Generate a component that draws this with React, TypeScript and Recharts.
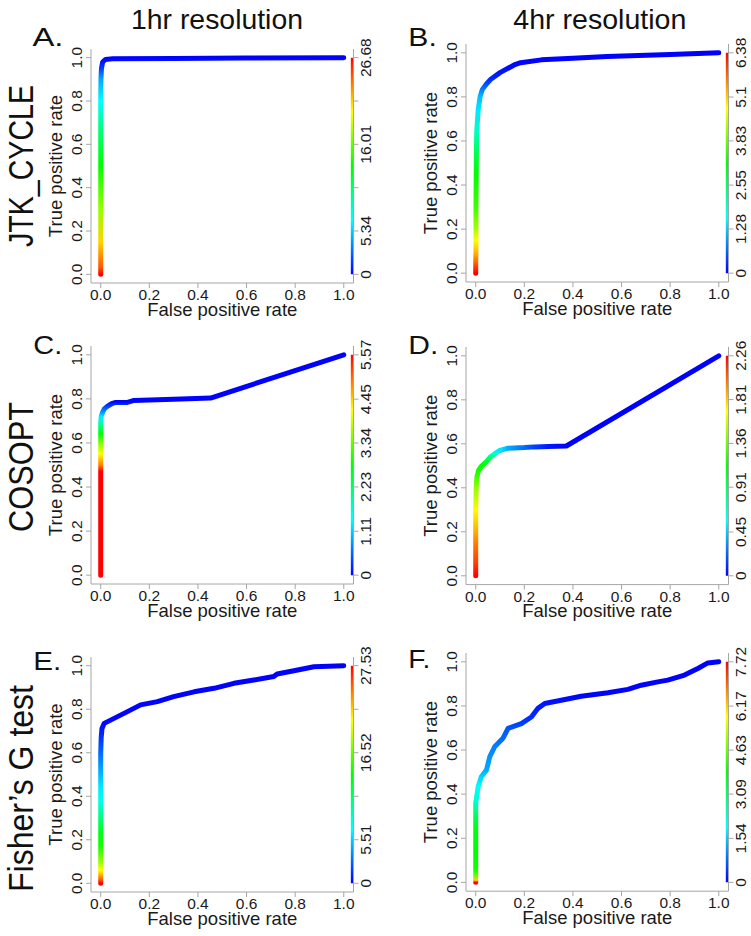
import React from "react";
import { ComposedChart, Line, Area, XAxis, YAxis } from "recharts";

const FONT = '"Liberation Sans", Arial, Helvetica, sans-serif';

// axis ticks shared by every panel
const rateTicks = [0, 0.2, 0.4, 0.6, 0.8, 1.0];
const rateLabels = ["0.0", "0.2", "0.4", "0.6", "0.8", "1.0"];

// A. JTK_CYCLE, 1hr resolution
const jtk1Fpr = [0, 0, 0, 0, 0, 0, 0, 0.001, 0.003, 0.008, 0.02, 0.05, 0.3, 0.6, 1.0];
const jtk1Tpr = [0, 0.03, 0.15, 0.3, 0.5, 0.65, 0.8, 0.9, 0.95, 0.98, 0.992, 0.995, 0.996, 0.998, 1.0];
const jtk1Cut = [26.68, 24.46, 21.12, 17.23, 13.34, 10.56, 6.67, 4.45, 1.67, 0.56, 0.3, 0.15, 0.1, 0.05, 0];
const jtk1BarTicks = [0, 5.34, 10.67, 16.01, 21.34, 26.68];
const jtk1BarLabels = ["0", "5.34", "", "16.01", "", "26.68"];

// B. JTK_CYCLE, 4hr resolution
const jtk4Fpr = [0, 0, 0.001, 0.001, 0.001, 0.001, 0.002, 0.003, 0.004, 0.01, 0.018, 0.027, 0.045, 0.062, 0.1, 0.158, 0.185, 0.27, 0.4, 0.54, 0.8, 1.0];
const jtk4Tpr = [0, 0.05, 0.1, 0.15, 0.2, 0.3, 0.45, 0.55, 0.64, 0.74, 0.8, 0.833, 0.86, 0.88, 0.91, 0.945, 0.955, 0.968, 0.975, 0.983, 0.992, 1.0];
const jtk4Cut = [6.38, 5.72, 5.18, 4.79, 4.25, 3.59, 3.19, 2.66, 2.0, 1.46, 1.2, 0.8, 0.48, 0.27, 0.13, 0.05, 0.03, 0.02, 0.01, 0.01, 0, 0];
const jtk4BarTicks = [0, 1.28, 2.55, 3.83, 5.1, 6.38];
const jtk4BarLabels = ["0", "1.28", "2.55", "3.83", "5.1", "6.38"];

// C. COSOPT, 1hr resolution
const cos1Fpr = [0, 0, 0, 0, 0, 0, 0, 0.002, 0.008, 0.015, 0.027, 0.045, 0.062, 0.11, 0.137, 0.3, 0.452, 1.0];
const cos1Tpr = [0, 0.47, 0.5, 0.55, 0.6, 0.64, 0.69, 0.72, 0.74, 0.755, 0.766, 0.778, 0.784, 0.784, 0.793, 0.798, 0.804, 1.0];
const cos1Cut = [5.57, 5.57, 4.87, 4.18, 3.48, 2.79, 1.86, 1.28, 0.81, 0.58, 0.35, 0.19, 0.05, 0.03, 0.02, 0.01, 0.01, 0];
const cos1BarTicks = [0, 1.11, 2.23, 3.34, 4.45, 5.57];
const cos1BarLabels = ["0", "1.11", "2.23", "3.34", "4.45", "5.57"];

// D. COSOPT, 4hr resolution
const cos4Fpr = [0, 0, 0, 0, 0, 0.002, 0.005, 0.012, 0.025, 0.045, 0.06, 0.08, 0.1, 0.133, 0.2, 0.242, 0.3, 0.373, 1.0];
const cos4Tpr = [0, 0.06, 0.15, 0.22, 0.3, 0.4, 0.45, 0.48, 0.5, 0.52, 0.54, 0.556, 0.57, 0.58, 0.583, 0.586, 0.588, 0.59, 1.0];
const cos4Cut = [2.26, 2.12, 1.98, 1.84, 1.7, 1.46, 1.27, 1.18, 1.13, 1.04, 0.85, 0.66, 0.52, 0.38, 0.24, 0.14, 0.05, 0, 0];
const cos4BarTicks = [0, 0.45, 0.91, 1.36, 1.81, 2.26];
const cos4BarLabels = ["0", "0.45", "0.91", "1.36", "1.81", "2.26"];

// E. Fisher's G test, 1hr resolution
const fis1Fpr = [0, 0, 0, 0, 0, 0, 0, 0, 0, 0, 0, 0.002, 0.005, 0.014, 0.055, 0.11, 0.164, 0.233, 0.3, 0.384, 0.466, 0.548, 0.63, 0.712, 0.726, 0.795, 0.877, 1.0];
const fis1Tpr = [0, 0.02, 0.06, 0.1, 0.17, 0.23, 0.29, 0.38, 0.44, 0.52, 0.6, 0.67, 0.71, 0.735, 0.758, 0.789, 0.82, 0.835, 0.858, 0.88, 0.896, 0.919, 0.934, 0.95, 0.962, 0.977, 0.995, 1.0];
const fis1Cut = [27.53, 24.66, 20.65, 17.78, 14.34, 13.19, 10.9, 7.46, 6.31, 4.59, 2.87, 1.38, 0.57, 0.23, 0.15, 0.12, 0.1, 0.08, 0.07, 0.06, 0.05, 0.04, 0.03, 0.02, 0.02, 0.01, 0.01, 0];
const fis1BarTicks = [0, 5.51, 11.01, 16.52, 22.02, 27.53];
const fis1BarLabels = ["0", "5.51", "", "16.52", "", "27.53"];

// F. Fisher's G test, 4hr resolution
const fis4Fpr = [0, 0, 0, 0, 0, 0, 0, 0, 0.01, 0.023, 0.044, 0.058, 0.078, 0.112, 0.133, 0.188, 0.229, 0.256, 0.284, 0.352, 0.434, 0.544, 0.626, 0.681, 0.749, 0.79, 0.859, 0.914, 0.955, 1.0];
const fis4Tpr = [0, 0.01, 0.03, 0.06, 0.15, 0.25, 0.3, 0.36, 0.434, 0.479, 0.509, 0.57, 0.615, 0.653, 0.698, 0.72, 0.75, 0.789, 0.811, 0.826, 0.844, 0.86, 0.875, 0.894, 0.909, 0.917, 0.94, 0.97, 0.995, 1.0];
const fis4Cut = [7.72, 6.11, 4.66, 4.02, 3.86, 3.7, 3.22, 2.41, 1.93, 1.61, 1.29, 1.13, 0.97, 0.8, 0.64, 0.48, 0.32, 0.23, 0.16, 0.1, 0.03, 0.02, 0.02, 0.01, 0.01, 0.01, 0.01, 0, 0, 0];
const fis4BarTicks = [0, 1.54, 3.09, 4.63, 6.17, 7.72];
const fis4BarLabels = ["0", "1.54", "3.09", "4.63", "6.17", "7.72"];

const BOX_W = 262.5;
const Y_AXIS_W = 60;
const BAR_AXIS_W = 22;
const TOP_PAD = 10;
const X_AXIS_H = 40;
const GRID = "#a6a6a6";
const INK = "#1a1a1a";
const TICK_FS = 15.5;
const DOMAIN: [number, number] = [-0.04, 1.04];
// colour key sits on the inside of the right edge of the box
const BAR_X0 = 1.029;
const BAR_X1 = 1.04;

// rev(rainbow(256, end = 4/6)): low cutoff blue, high cutoff red
const cutColor = (c: number, max: number) =>
  `hsl(${(240 * (1 - c / max)).toFixed(1)}, 100%, 50%)`;

type Pt = { fpr: number; tpr: number; cut: number };

const panels = [
  { id: "A", fpr: jtk1Fpr, tpr: jtk1Tpr, cut: jtk1Cut, barTicks: jtk1BarTicks, barLabels: jtk1BarLabels, split: null, left: 90.5, top: 48.8, h: 234 },
  { id: "B", fpr: jtk4Fpr, tpr: jtk4Tpr, cut: jtk4Cut, barTicks: jtk4BarTicks, barLabels: jtk4BarLabels, split: null, left: 466, top: 44.2, h: 238 },
  { id: "C", fpr: cos1Fpr, tpr: cos1Tpr, cut: cos1Cut, barTicks: cos1BarTicks, barLabels: cos1BarLabels, split: null, left: 90.5, top: 346.4, h: 238 },
  { id: "D", fpr: cos4Fpr, tpr: cos4Tpr, cut: cos4Cut, barTicks: cos4BarTicks, barLabels: cos4BarLabels, split: 12, left: 466, top: 346.9, h: 237.6 },
  { id: "E", fpr: fis1Fpr, tpr: fis1Tpr, cut: fis1Cut, barTicks: fis1BarTicks, barLabels: fis1BarLabels, split: null, left: 90.5, top: 657, h: 235 },
  { id: "F", fpr: fis4Fpr, tpr: fis4Tpr, cut: fis4Cut, barTicks: fis4BarTicks, barLabels: fis4BarLabels, split: null, left: 466, top: 652.9, h: 238.2 },
];

function RocPanel(p: any) {
  const max = p.barTicks[p.barTicks.length - 1];
  const pts: Pt[] = p.fpr.map((f: number, i: number) => ({ fpr: f, tpr: p.tpr[i], cut: p.cut[i] }));
  // colour runs along tpr for the steep part, along fpr for the flat part
  const pieces =
    p.split == null
      ? [{ data: pts, axis: "y" }]
      : [
          { data: pts.slice(0, p.split + 1), axis: "y" },
          { data: pts.slice(p.split), axis: "x" },
        ];
  const barData = [
    { fpr: BAR_X0, key: max },
    { fpr: BAR_X1, key: max },
  ];

  const W = Y_AXIS_W + BOX_W + BAR_AXIS_W;
  const H = TOP_PAD + p.h + X_AXIS_H;
  const plotBottom = TOP_PAD + p.h;
  const plotRight = Y_AXIS_W + BOX_W;

  const leftTick = (t: any) => {
    const { y, payload } = t;
    const x = Y_AXIS_W - 9;
    return (
      <text x={x} y={y} transform={`rotate(-90 ${x} ${y})`} textAnchor="middle" fontSize={TICK_FS} fill={INK} fontFamily={FONT}>
        {rateLabels[rateTicks.indexOf(payload.value)]}
      </text>
    );
  };
  const bottomTick = (t: any) => {
    const { x, payload } = t;
    return (
      <text x={x} y={plotBottom + 17.3} textAnchor="middle" fontSize={TICK_FS} fill={INK} fontFamily={FONT}>
        {rateLabels[rateTicks.indexOf(payload.value)]}
      </text>
    );
  };
  const barTick = (t: any) => {
    const { y, payload } = t;
    const bx = plotRight + 17.3;
    return (
      <text x={bx} y={y} transform={`rotate(-90 ${bx} ${y})`} textAnchor="middle" fontSize={TICK_FS} fill={INK} fontFamily={FONT}>
        {p.barLabels[p.barTicks.indexOf(payload.value)]}
      </text>
    );
  };

  const xTitle = () => (
    <text x={Y_AXIS_W + BOX_W / 2} y={plotBottom + 32.5} textAnchor="middle" fontSize={18.5} fill={INK} fontFamily={FONT}>
      False positive rate
    </text>
  );
  const yTitle = () => {
    const x = Y_AXIS_W - 29;
    const y = TOP_PAD + p.h / 2;
    return (
      <text x={x} y={y} transform={`rotate(-90 ${x} ${y})`} textAnchor="middle" fontSize={18.5} fill={INK} fontFamily={FONT}>
        True positive rate
      </text>
    );
  };

  return (
    <div style={{ position: "absolute", left: p.left - Y_AXIS_W, top: p.top - TOP_PAD }}>
      <ComposedChart width={W} height={H} margin={{ top: TOP_PAD, right: 0, bottom: 0, left: 0 }}>
        <defs>
          {pieces.map((pc, k) => {
            const vals = pc.data.map((d) => (pc.axis === "y" ? d.tpr : d.fpr));
            const lo = Math.min(...vals);
            const hi = Math.max(...vals);
            return (
              <linearGradient
                key={k}
                id={`roc-${p.id}-${k}`}
                x1="0"
                y1={pc.axis === "y" ? "1" : "0"}
                x2={pc.axis === "y" ? "0" : "1"}
                y2="0"
              >
                {pc.data.map((d, i) => (
                  <stop key={i} offset={(vals[i] - lo) / (hi - lo)} stopColor={cutColor(d.cut, max)} />
                ))}
              </linearGradient>
            );
          })}
          <linearGradient id={`bar-${p.id}`} x1="0" y1="1" x2="0" y2="0">
            {[0, 1, 2, 3, 4, 5, 6, 7, 8].map((i) => (
              <stop key={i} offset={i / 8} stopColor={cutColor((max * i) / 8, max)} />
            ))}
          </linearGradient>
        </defs>
        <XAxis
          type="number"
          dataKey="fpr"
          domain={DOMAIN}
          allowDataOverflow
          ticks={rateTicks}
          interval={0}
          height={X_AXIS_H}
          axisLine={{ stroke: GRID }}
          tickLine={{ stroke: GRID }}
          tickSize={5}
          tickMargin={0}
          tick={bottomTick}
          label={{ content: xTitle }}
        />
        <XAxis
          xAxisId="top"
          orientation="top"
          type="number"
          domain={DOMAIN}
          allowDataOverflow
          height={0}
          tick={false}
          tickLine={false}
          axisLine={{ stroke: GRID }}
        />
        <YAxis
          yAxisId="l"
          type="number"
          domain={DOMAIN}
          allowDataOverflow
          ticks={rateTicks}
          interval={0}
          width={Y_AXIS_W}
          axisLine={{ stroke: GRID }}
          tickLine={{ stroke: GRID }}
          tickSize={5}
          tickMargin={4}
          tick={leftTick}
          label={{ content: yTitle }}
        />
        <YAxis
          yAxisId="r"
          orientation="right"
          type="number"
          domain={[DOMAIN[0] * max, DOMAIN[1] * max]}
          allowDataOverflow
          ticks={p.barTicks}
          interval={0}
          width={BAR_AXIS_W}
          axisLine={{ stroke: GRID }}
          tickLine={{ stroke: GRID }}
          tickSize={5}
          tickMargin={1}
          tick={barTick}
        />
        <Area
          yAxisId="r"
          data={barData}
          dataKey="key"
          type="linear"
          baseValue={0}
          fill={`url(#bar-${p.id})`}
          fillOpacity={1}
          stroke="none"
          dot={false}
          activeDot={false}
          isAnimationActive={false}
        />
        {pieces.map((pc, k) => (
          <Line
            key={k}
            yAxisId="l"
            data={pc.data}
            dataKey="tpr"
            type="linear"
            stroke={`url(#roc-${p.id}-${k})`}
            strokeWidth={5}
            strokeLinecap="round"
            strokeLinejoin="round"
            dot={false}
            activeDot={false}
            isAnimationActive={false}
          />
        ))}
      </ComposedChart>
    </div>
  );
}

export default function App() {
  return (
    <div style={{ position: "absolute", left: 0, top: 0, width: 751, height: 936, background: "#fff", fontFamily: FONT }}>
      {panels.map((p) => (
        <RocPanel key={p.id} {...p} />
      ))}
      <svg width={751} height={936} style={{ position: "absolute", left: 0, top: 0, pointerEvents: "none" }} fontFamily={FONT} fill="#111">
        <text x={131} y={29} fontSize={28} textLength={172} lengthAdjust="spacingAndGlyphs">1hr resolution</text>
        <text x={513.3} y={29} fontSize={28} textLength={173} lengthAdjust="spacingAndGlyphs">4hr resolution</text>
        <text x={32.5} y={46} fontSize={26} textLength={31} lengthAdjust="spacingAndGlyphs">A.</text>
        <text x={408.3} y={46} fontSize={26} textLength={28.5} lengthAdjust="spacingAndGlyphs">B.</text>
        <text x={33.3} y={354} fontSize={26} textLength={29} lengthAdjust="spacingAndGlyphs">C.</text>
        <text x={408.3} y={354} fontSize={26} textLength={30} lengthAdjust="spacingAndGlyphs">D.</text>
        <text x={33.3} y={670} fontSize={26} textLength={28} lengthAdjust="spacingAndGlyphs">E.</text>
        <text x={408.3} y={668} fontSize={26} textLength={22} lengthAdjust="spacingAndGlyphs">F.</text>
        <text x={33.3} y={247} transform="rotate(-90 33.3 247)" fontSize={35} textLength={162} lengthAdjust="spacingAndGlyphs">JTK_CYCLE</text>
        <text x={33.3} y={532} transform="rotate(-90 33.3 532)" fontSize={35} textLength={130} lengthAdjust="spacingAndGlyphs">COSOPT</text>
        <text x={33.3} y={892} transform="rotate(-90 33.3 892)" fontSize={35} textLength={207} lengthAdjust="spacingAndGlyphs">Fisher’s G test</text>
      </svg>
    </div>
  );
}
